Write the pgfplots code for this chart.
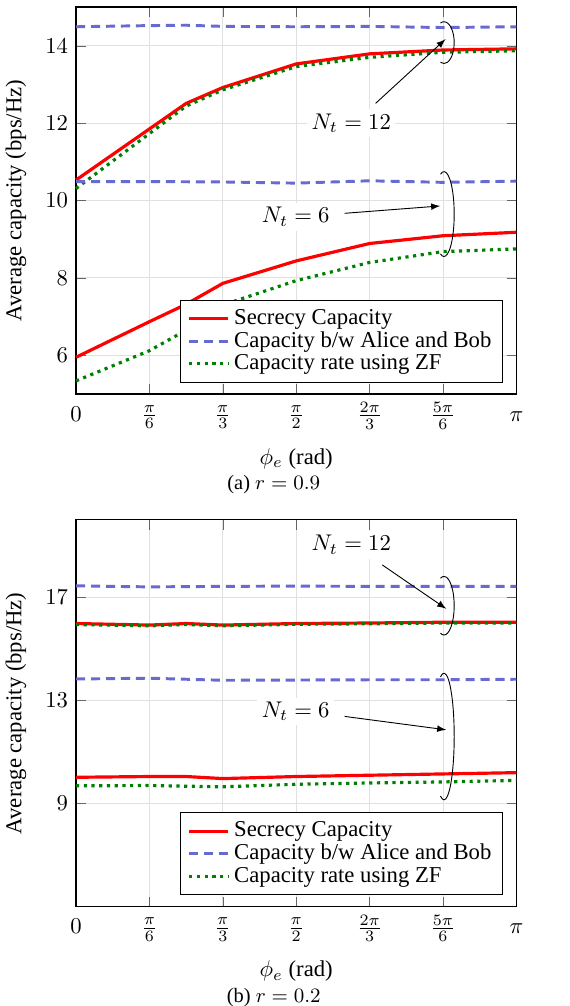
\documentclass[border=0pt]{standalone}
\usepackage{fontspec}
\setmainfont{Liberation Serif}
\usepackage{pgfplots}
\pgfplotsset{compat=1.18}
\definecolor{cred}{RGB}{255,0,0}
\definecolor{cblue}{RGB}{105,105,210}
\definecolor{cgreen}{RGB}{0,128,0}
\tikzset{lab/.style={fill=white, inner sep=2pt}}
\pgfplotsset{
  myaxis/.style={
    scale only axis, width=194pt, height=170.5pt,
    xmin=0, xmax=3.14159,
    xtick={0,0.5236,1.0472,1.5708,2.0944,2.618,3.14159},
    xticklabels={{\strut$0$},{\strut$\frac{\pi}{6}$},{\strut$\frac{\pi}{3}$},{\strut$\frac{\pi}{2}$},{\strut$\frac{2\pi}{3}$},{\strut$\frac{5\pi}{6}$},{\strut$\pi$}},
    grid=major, major grid style={black!12},
    major tick length=4.3pt, tick style={black!60},
    axis line style={semithick},
    xlabel={$\phi_e$ (rad)},
    ylabel={Average capacity (bps/Hz)},
    xlabel style={yshift=-1.5pt},
    ylabel style={yshift=1.5pt},
    legend pos=south east, legend cell align=left,
    legend style={font=\normalsize, row sep=-2.3pt},
    clip=false,
  },
  sred/.style={cred, line width=1.4pt},
  sblue/.style={cblue, line width=1.3pt, dash pattern=on 4pt off 2.6pt},
  sgreen/.style={cgreen, line width=1.4pt, dotted},
}
\begin{document}
\begin{tikzpicture}
\begin{axis}[myaxis, name=top, ymin=5, ymax=15, ytick={6,8,10,12,14}]
\addplot[sred] coordinates {(0,10.53) (0.7854,12.51) (1.0472,12.92) (1.5708,13.53) (2.0944,13.79) (2.618,13.89) (3.14159,13.92)};
\addlegendentry{Secrecy Capacity}
\addplot[sblue] coordinates {(0,14.49) (0.5236,14.52) (0.7854,14.53) (1.0472,14.50) (1.5708,14.49) (2.0944,14.50) (2.618,14.47) (3.14159,14.49)};
\addlegendentry{Capacity b/w Alice and Bob}
\addplot[sgreen] coordinates {(0,10.31) (0.7854,12.44) (1.0472,12.86) (1.5708,13.46) (2.0944,13.70) (2.618,13.83) (3.14159,13.87)};
\addlegendentry{Capacity rate using ZF}
\addplot[sblue, forget plot] coordinates {(0,10.49) (0.5236,10.49) (1.0472,10.48) (1.5708,10.45) (2.0944,10.51) (2.618,10.47) (3.14159,10.50)};
\addplot[sred, forget plot] coordinates {(0,5.95) (0.5236,6.87) (0.7854,7.32) (1.0472,7.86) (1.5708,8.44) (2.0944,8.89) (2.618,9.09) (3.14159,9.18)};
\addplot[sgreen, forget plot] coordinates {(0,5.34) (0.5236,6.12) (0.7854,6.65) (1.0472,7.30) (1.5708,7.93) (2.0944,8.40) (2.618,8.68) (3.14159,8.75)};
\node[lab] at (axis cs:1.964,12.0) {$N_t=12$};
\draw[-latex] (axis cs:2.137,12.51) -- (axis cs:2.636,14.17);
\draw (axis cs:2.625,14.08) ++(110:4.5pt and 9.2pt) arc[start angle=110, end angle=-110, x radius=4.5pt, y radius=9.2pt];
\node[lab] at (axis cs:1.567,9.58) {$N_t=6$};
\draw[-latex] (axis cs:1.916,9.67) -- (axis cs:2.598,9.86);
\draw (axis cs:2.625,9.65) ++(110:4.5pt and 18.7pt) arc[start angle=110, end angle=-110, x radius=4.5pt, y radius=18.7pt];
\end{axis}
\path (top.south west) -- (top.south east) node[pos=0.449, yshift=-40pt, font=\small] {(a) $r=0.9$};
\begin{axis}[myaxis, name=bot, at={(0,-225.9pt)}, ymin=5, ymax=20, ytick={9,13,17}]
\addplot[sred] coordinates {(0,15.98) (0.5236,15.92) (0.7854,15.98) (1.0472,15.92) (1.5708,15.98) (2.0944,16.0) (2.618,16.03) (3.14159,16.03)};
\addlegendentry{Secrecy Capacity}
\addplot[sblue] coordinates {(0,17.44) (0.5236,17.40) (1.0472,17.42) (1.5708,17.43) (2.0944,17.42) (2.618,17.42) (3.14159,17.42)};
\addlegendentry{Capacity b/w Alice and Bob}
\addplot[sgreen] coordinates {(0,15.94) (0.5236,15.89) (0.7854,15.94) (1.0472,15.89) (1.5708,15.95) (2.0944,15.97) (2.618,16.0) (3.14159,16.0)};
\addlegendentry{Capacity rate using ZF}
\addplot[sblue, forget plot] coordinates {(0,13.83) (0.5236,13.86) (1.0472,13.78) (1.5708,13.79) (2.0944,13.80) (2.618,13.80) (3.14159,13.82)};
\addplot[sred, forget plot] coordinates {(0,10.02) (0.5236,10.05) (0.7854,10.05) (1.0472,9.97) (1.5708,10.05) (2.0944,10.10) (2.618,10.15) (3.14159,10.20)};
\addplot[sgreen, forget plot] coordinates {(0,9.69) (0.5236,9.70) (1.0472,9.65) (1.5708,9.75) (2.0944,9.80) (2.618,9.84) (3.14159,9.90)};
\node[lab] at (axis cs:1.964,19.03) {$N_t=12$};
\draw[-latex] (axis cs:2.185,18.25) -- (axis cs:2.641,16.55);
\draw (axis cs:2.625,16.67) ++(110:4.5pt and 12.9pt) arc[start angle=110, end angle=-110, x radius=4.5pt, y radius=12.9pt];
\node[lab] at (axis cs:1.567,12.57) {$N_t=6$};
\draw[-latex] (axis cs:1.916,12.38) -- (axis cs:2.641,11.86);
\draw (axis cs:2.625,11.60) ++(110:4.5pt and 27.9pt) arc[start angle=110, end angle=-110, x radius=4.5pt, y radius=27.9pt];
\end{axis}
\path (bot.south west) -- (bot.south east) node[pos=0.449, yshift=-40pt, font=\small] {(b) $r=0.2$};
\pgfresetboundingbox
\path[use as bounding box] (-33.5pt,-269.6pt) rectangle (217.2pt,173.6pt);
\end{tikzpicture}
\end{document}
